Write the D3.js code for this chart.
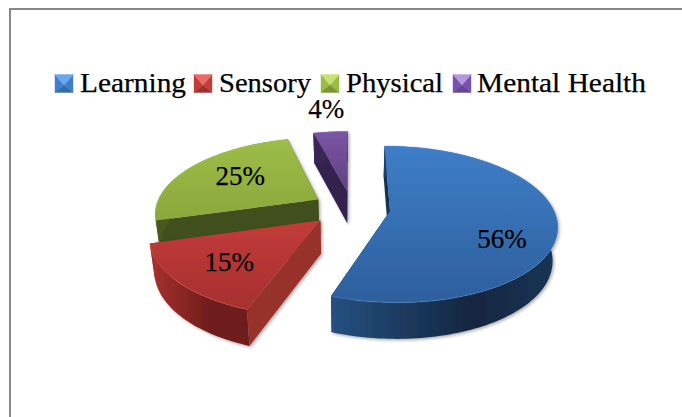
<!DOCTYPE html>
<html>
<head>
<meta charset="utf-8">
<script src="https://cdn.jsdelivr.net/npm/d3@7"></script>
<style>
html,body{margin:0;padding:0;background:#fff;overflow:hidden}
text{font-family:"Liberation Serif",serif;fill:#000;stroke:#000;stroke-width:0.25px}
</style>
</head>
<body>
<svg id="c" width="682" height="417"></svg>
<script>
// ---- data
const categories = ["Learning", "Sensory", "Physical", "Mental Health"];
const values = [55.5, 15, 25.4, 4.1];
const labels = ["56%", "15%", "25%", "4%"];

// ---- colours
const topLight  = ["#3e7ec8", "#c23c3a", "#9dbd47", "#7b56a3"];
const topDark   = ["#2d5f9c", "#a62f2e", "#8aa83c", "#5f4183"];
const wallLeft  = ["#25507f", "#a8322f", "#4a5a1f", "#3a2957"];
const wallMid   = ["#12263f", "#6e1c1a", "#3f4d1a", "#33244e"];
const wallRight = ["#1a3556", "#6e1c1a", "#3f4d1a", "#33244e"];
const cutColor  = ["#16304f", "#96302a", "#414f1b", "#33244e"];
const rimColor  = ["#5c9be2", "#e0605c", "#c0dc68", "#a884d8"];
const swLight   = ["#6aa8ee", "#ec6a66", "#c8e070", "#b498e0"];
const swSide    = ["#3f7fcc", "#c03d3a", "#9bbb45", "#7a52ab"];
const swDark    = ["#336aa8", "#9c302d", "#7a9634", "#634594"];

// ---- layout
const W = 682, H = 417;
const cx = 352, cy = 208, rx = 163, ry = 75, persp = 0.168;
const explode = 0.235, depth = 33, shrink = 0.975;
const startDeg = 0;
const sliceNudge = [0, -3, -1, 0];
const legendSwatchX = [55, 194, 321, 453];
const legendTextX = [80, 219, 346, 477];
const legendTextW = [106, 92, 97, 169];
const legendBase = 92, swatchSize = 18, swatchTop = 74.5;
const labelDx = [112, -91, -78, -21];
const labelDy = [37, 51, -14, -73];

const svg = d3.select("#c");
const defs = svg.append("defs");

const f = defs.append("filter").attr("id", "shadow")
  .attr("x", "-10%").attr("y", "-10%").attr("width", "120%").attr("height", "120%");
f.append("feDropShadow").attr("dx", 1.5).attr("dy", 1.5).attr("stdDeviation", 1.6)
  .attr("flood-color", "#000").attr("flood-opacity", 0.32);

function grad(id, horizontal, stops) {
  const g = defs.append("linearGradient").attr("id", id)
    .attr("x1", 0).attr("y1", 0)
    .attr("x2", horizontal ? 1 : 0).attr("y2", horizontal ? 0 : 1);
  stops.forEach(s => g.append("stop").attr("offset", s[0]).attr("stop-color", s[1]));
}

// ---- frame
svg.append("rect").attr("width", W).attr("height", H).attr("fill", "#fff");
svg.append("path").attr("d", d3.line()([[10, H], [10, 9], [W, 9]]))
  .attr("fill", "none").attr("stroke", "#888").attr("stroke-width", 2);

// ---- projection of the pie disc onto the screen
const xScale = d3.scaleLinear().domain([-1, 1]).range([cx - rx, cx + rx]);
const yScale = d3.scaleLinear().domain([-1, 1]).range([cy - ry, cy + ry]);
function project(X, Y) {
  const s = 1 / (1 - persp * Y);
  return [xScale(X * s), yScale(Y * s)];
}
function lower(X, Y) {
  const s = 1 / (1 - persp * Y);
  const p = project(X, Y);
  return [cx + (p[0] - cx) * shrink, p[1] + depth * Math.sqrt(s)];
}

const pie = d3.pie().sort(null)
  .startAngle(startDeg * Math.PI / 180)
  .endAngle((startDeg + 360) * Math.PI / 180);
const arcs = pie(values);

const line = d3.line();
const geo = arcs.map(a => {
  const mid = (a.startAngle + a.endAngle) / 2;
  const ox = Math.sin(mid) * explode, oy = -Math.cos(mid) * explode;
  const n = Math.max(8, Math.round((a.endAngle - a.startAngle) * 40));
  const rim = d3.range(n + 1).map(i => {
    const t = a.startAngle + (a.endAngle - a.startAngle) * i / n;
    return [ox + Math.sin(t), oy - Math.cos(t)];
  });
  return { apex: [ox, oy], rim };
});

// ---- slices, back to front
const order = [3, 2, 0, 1];
order.forEach(i => {
  const g = geo[i];
  grad("top" + i, false, [[0, topLight[i]], [1, topDark[i]]]);
  grad("wall" + i, true, [[0, wallLeft[i]], [0.62, wallMid[i]], [1, wallRight[i]]]);

  const layer = svg.append("g").attr("filter", "url(#shadow)")
    .attr("transform", "translate(" + sliceNudge[i] + ",0)");
  const A = g.apex, R0 = g.rim[0], R1 = g.rim[g.rim.length - 1];

  [R0, R1].forEach(r => {
    layer.append("path")
      .attr("d", line([project(...A), project(...r), lower(...r), lower(...A)]) + "Z")
      .attr("fill", cutColor[i]);
  });

  const wall = g.rim.map(p => project(...p)).concat(g.rim.slice().reverse().map(p => lower(...p)));
  layer.append("path").attr("d", line(wall) + "Z").attr("fill", "url(#wall" + i + ")");

  const face = [project(...A)].concat(g.rim.map(p => project(...p)));
  layer.append("path").attr("d", line(face) + "Z").attr("fill", "url(#top" + i + ")");

  // light bevel along the rim
  layer.append("path").attr("d", line(g.rim.map(p => project(...p))))
    .attr("fill", "none").attr("stroke", rimColor[i]).attr("stroke-opacity", 0.45).attr("stroke-width", 1);
});

// ---- data labels
arcs.forEach((a, i) => {
  const p = project(...geo[i].apex);
  svg.append("text").attr("x", p[0] + labelDx[i] + sliceNudge[i]).attr("y", p[1] + labelDy[i])
    .attr("text-anchor", "middle").attr("font-size", 27).text(labels[i]);
});

// ---- legend
categories.forEach((c, i) => {
  const x0 = legendSwatchX[i], y0 = swatchTop, s = swatchSize;
  const g = svg.append("g");
  const tri = (pts, col) => g.append("path").attr("d", line(pts) + "Z")
    .attr("fill", col).attr("stroke", col).attr("stroke-width", 0.4);
  const cen = [x0 + s / 2, y0 + s * 0.58];
  tri([[x0, y0], cen, [x0, y0 + s]], swSide[i]);
  tri([[x0 + s, y0], cen, [x0 + s, y0 + s]], swSide[i]);
  tri([[x0, y0 + s], [x0 + s, y0 + s], cen], swDark[i]);
  tri([[x0, y0], [x0 + s, y0], cen], swLight[i]);
  svg.append("text").attr("x", legendTextX[i]).attr("y", legendBase)
    .attr("font-size", 28).attr("textLength", legendTextW[i])
    .attr("lengthAdjust", "spacingAndGlyphs").text(c);
});
</script>
</body>
</html>
